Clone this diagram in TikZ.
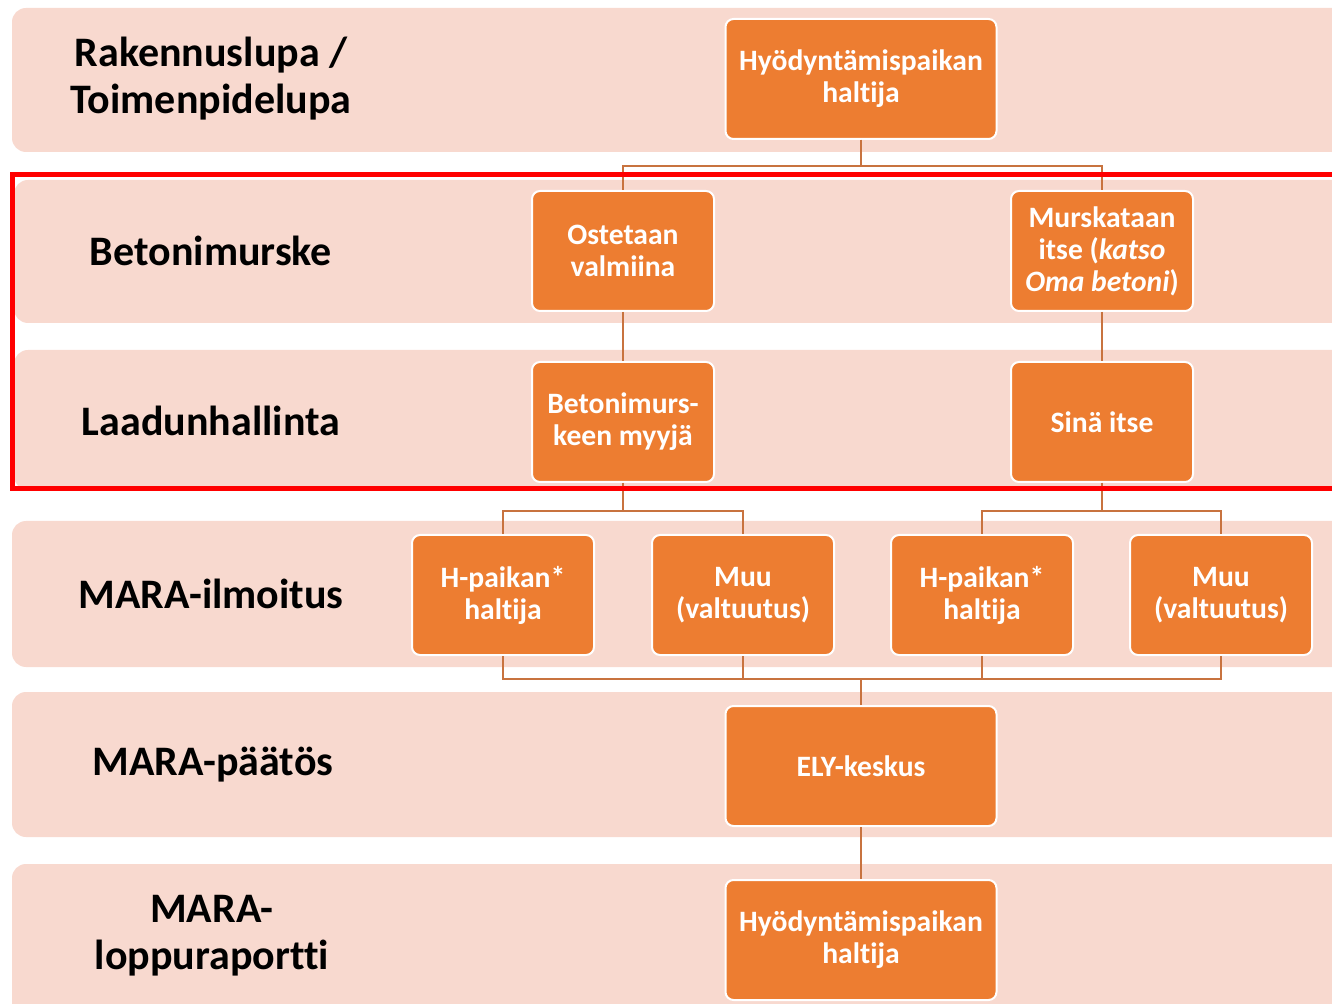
\documentclass[tikz,border=0pt]{standalone}
\usepackage{fontspec}
\setmainfont{Carlito}[Ligatures=NoCommon]
\definecolor{bandpink}{HTML}{F8D9CF}
\definecolor{boxorange}{HTML}{ED7D31}
\definecolor{linebrown}{HTML}{C8733F}
\begin{document}
\begin{tikzpicture}[x=0.5pt, y=-0.5pt,
  band/.style={fill=bandpink, rounded corners=7pt},
  box/.style={fill=boxorange, draw=white, line width=1pt, rounded corners=4pt,
    text=white, align=center, minimum width=91pt, minimum height=60pt,
    inner sep=2pt, font=\fontsize{14.8}{16}\selectfont\bfseries},
  widebox/.style={box, minimum width=135.5pt},
  phase/.style={align=center, font=\fontsize{21}{23.5}\selectfont\bfseries},
  conn/.style={draw=linebrown, line width=1.2pt}]
\useasboundingbox (0,0) rectangle (1332,1004);
\clip (0,0) rectangle (1332,1004);
% background bands
\fill[band] (12,8) rectangle (1370,152);
\fill[band] (14,180) rectangle (1370,323);
\fill[band] (14,350) rectangle (1370,490);
\fill[band] (12,521) rectangle (1370,667);
\fill[band] (12,692) rectangle (1370,837);
\fill[band] (12,864) rectangle (1370,1030);
% phase labels
\node[phase] (lupa) at (211,79) {Rakennuslupa /\\Toimenpidelupa};
\node[phase] (murske) at (211,251) {Betonimurske};
\node[phase] (laatu) at (211,421) {Laadunhallinta};
\node[phase] (ilmo) at (211,594) {MARA-ilmoitus};
\node[phase] (paatos) at (213,765) {MARA-päätös};
\node[phase] (raportti) at (212,936) {MARA-\\loppuraportti};
% boxes
\node[widebox] (haltija) at (861,79) {Hyödyntämispaikan\\haltija};
\node[box] (osto) at (623,251) {Ostetaan\\valmiina};
\node[box] (murska) at (1102,251) {Murskataan\\itse (\textit{katso}\\\textit{Oma betoni})};
\node[box] (myyja) at (623,422) {Betonimurs-\\keen myyjä};
\node[box] (itse) at (1102,422) {Sinä itse};
\node[box] (hpa) at (503,595) {H-paikan*\\haltija};
\node[box] (muua) at (743,595) {Muu\\(valtuutus)};
\node[box] (hpb) at (982,595) {H-paikan*\\haltija};
\node[box] (muub) at (1221,595) {Muu\\(valtuutus)};
\node[widebox] (ely) at (861,766) {ELY-keskus};
\node[widebox] (loppu) at (861,940) {Hyödyntämispaikan\\haltija};
% connectors
\draw[conn] (haltija.south) -- ++(0,26) -| (osto.north);
\draw[conn] (haltija.south) -- ++(0,26) -| (murska.north);
\draw[conn] (osto) -- (myyja);
\draw[conn] (murska) -- (itse);
\draw[conn] (myyja.south) -- ++(0,28) -| (hpa.north);
\draw[conn] (myyja.south) -- ++(0,28) -| (muua.north);
\draw[conn] (itse.south) -- ++(0,28) -| (hpb.north);
\draw[conn] (itse.south) -- ++(0,28) -| (muub.north);
\foreach \n in {hpa,muua,hpb,muub}
  \draw[conn] (\n.south) -- ++(0,23) -| (ely.north);
\draw[conn] (ely) -- (loppu);
% highlight frame
\draw[red, line width=2.5pt] (1370,175) -| (12,489) -- (1370,489);
\end{tikzpicture}
\end{document}
